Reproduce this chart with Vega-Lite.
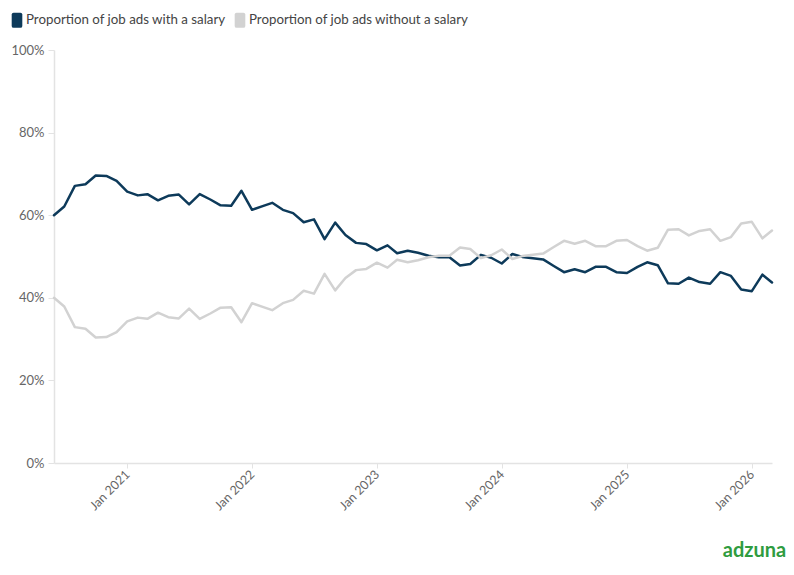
{
  "$schema": "https://vega.github.io/schema/vega-lite/v6.json",
  "width": 718,
  "height": 413,
  "autosize": {"type": "none"},
  "padding": {"left": 54, "top": 50, "right": 22, "bottom": 112},
  "title": {"text": "adzuna", "orient": "bottom", "anchor": "end", "color": "#2f9c3f", "fontSize": 20, "fontWeight": "bold", "font": "Lato", "offset": 29, "dx": 13},
  "data": {"values": [
    {"m":"2020-06-01","with_salary":60.0,"without_salary":40.0},
    {"m":"2020-07-01","with_salary":62.1,"without_salary":37.9},
    {"m":"2020-08-01","with_salary":67.1,"without_salary":32.9},
    {"m":"2020-09-01","with_salary":67.5,"without_salary":32.5},
    {"m":"2020-10-01","with_salary":69.6,"without_salary":30.4},
    {"m":"2020-11-01","with_salary":69.5,"without_salary":30.5},
    {"m":"2020-12-01","with_salary":68.3,"without_salary":31.7},
    {"m":"2021-01-01","with_salary":65.7,"without_salary":34.3},
    {"m":"2021-02-01","with_salary":64.8,"without_salary":35.2},
    {"m":"2021-03-01","with_salary":65.1,"without_salary":34.9},
    {"m":"2021-04-01","with_salary":63.6,"without_salary":36.4},
    {"m":"2021-05-01","with_salary":64.7,"without_salary":35.3},
    {"m":"2021-06-01","with_salary":65.0,"without_salary":35.0},
    {"m":"2021-07-01","with_salary":62.6,"without_salary":37.4},
    {"m":"2021-08-01","with_salary":65.1,"without_salary":34.9},
    {"m":"2021-09-01","with_salary":63.8,"without_salary":36.2},
    {"m":"2021-10-01","with_salary":62.4,"without_salary":37.6},
    {"m":"2021-11-01","with_salary":62.3,"without_salary":37.7},
    {"m":"2021-12-01","with_salary":65.9,"without_salary":34.1},
    {"m":"2022-01-01","with_salary":61.3,"without_salary":38.7},
    {"m":"2022-02-01","with_salary":62.2,"without_salary":37.8},
    {"m":"2022-03-01","with_salary":63.0,"without_salary":37.0},
    {"m":"2022-04-01","with_salary":61.3,"without_salary":38.7},
    {"m":"2022-05-01","with_salary":60.5,"without_salary":39.5},
    {"m":"2022-06-01","with_salary":58.3,"without_salary":41.7},
    {"m":"2022-07-01","with_salary":59.0,"without_salary":41.0},
    {"m":"2022-08-01","with_salary":54.2,"without_salary":45.8},
    {"m":"2022-09-01","with_salary":58.2,"without_salary":41.8},
    {"m":"2022-10-01","with_salary":55.2,"without_salary":44.8},
    {"m":"2022-11-01","with_salary":53.3,"without_salary":46.7},
    {"m":"2022-12-01","with_salary":53.0,"without_salary":47.0},
    {"m":"2023-01-01","with_salary":51.5,"without_salary":48.5},
    {"m":"2023-02-01","with_salary":52.7,"without_salary":47.3},
    {"m":"2023-03-01","with_salary":50.8,"without_salary":49.2},
    {"m":"2023-04-01","with_salary":51.4,"without_salary":48.6},
    {"m":"2023-05-01","with_salary":50.9,"without_salary":49.1},
    {"m":"2023-06-01","with_salary":50.2,"without_salary":49.8},
    {"m":"2023-07-01","with_salary":49.8,"without_salary":50.2},
    {"m":"2023-08-01","with_salary":49.8,"without_salary":50.2},
    {"m":"2023-09-01","with_salary":47.8,"without_salary":52.2},
    {"m":"2023-10-01","with_salary":48.2,"without_salary":51.8},
    {"m":"2023-11-01","with_salary":50.4,"without_salary":49.6},
    {"m":"2023-12-01","with_salary":49.7,"without_salary":50.3},
    {"m":"2024-01-01","with_salary":48.3,"without_salary":51.7},
    {"m":"2024-02-01","with_salary":50.6,"without_salary":49.4},
    {"m":"2024-03-01","with_salary":49.9,"without_salary":50.1},
    {"m":"2024-04-01","with_salary":49.6,"without_salary":50.4},
    {"m":"2024-05-01","with_salary":49.3,"without_salary":50.7},
    {"m":"2024-06-01","with_salary":47.7,"without_salary":52.3},
    {"m":"2024-07-01","with_salary":46.2,"without_salary":53.8},
    {"m":"2024-08-01","with_salary":46.9,"without_salary":53.1},
    {"m":"2024-09-01","with_salary":46.2,"without_salary":53.8},
    {"m":"2024-10-01","with_salary":47.5,"without_salary":52.5},
    {"m":"2024-11-01","with_salary":47.5,"without_salary":52.5},
    {"m":"2024-12-01","with_salary":46.2,"without_salary":53.8},
    {"m":"2025-01-01","with_salary":46.0,"without_salary":54.0},
    {"m":"2025-02-01","with_salary":47.5,"without_salary":52.5},
    {"m":"2025-03-01","with_salary":48.6,"without_salary":51.4},
    {"m":"2025-04-01","with_salary":47.9,"without_salary":52.1},
    {"m":"2025-05-01","with_salary":43.5,"without_salary":56.5},
    {"m":"2025-06-01","with_salary":43.4,"without_salary":56.6},
    {"m":"2025-07-01","with_salary":44.9,"without_salary":55.1},
    {"m":"2025-08-01","with_salary":43.8,"without_salary":56.2},
    {"m":"2025-09-01","with_salary":43.4,"without_salary":56.6},
    {"m":"2025-10-01","with_salary":46.2,"without_salary":53.8},
    {"m":"2025-11-01","with_salary":45.3,"without_salary":54.7},
    {"m":"2025-12-01","with_salary":42.0,"without_salary":58.0},
    {"m":"2026-01-01","with_salary":41.6,"without_salary":58.4},
    {"m":"2026-02-01","with_salary":45.6,"without_salary":54.4},
    {"m":"2026-03-01","with_salary":43.7,"without_salary":56.3}
  ]},
  "transform": [{"fold": ["with_salary", "without_salary"], "as": ["series", "value"]}],
  "mark": {"type": "line", "strokeWidth": 2.5, "strokeJoin": "round", "strokeCap": "round"},
  "encoding": {
    "x": {
      "field": "m", "type": "temporal",
      "scale": {"type": "utc", "domain": ["2020-06-01", "2026-03-01"], "nice": false},
      "axis": {"title": null, "format": "%b %Y", "tickCount": {"interval": "year", "step": 1}, "labelAngle": -45, "labelAlign": "right", "labelBaseline": "middle", "grid": false, "tickSize": 5, "labelPadding": 4, "labelFontSize": 12.5}
    },
    "y": {
      "field": "value", "type": "quantitative",
      "scale": {"domain": [0, 100], "nice": false},
      "axis": {"title": null, "values": [0, 20, 40, 60, 80, 100], "labelExpr": "datum.value + '%'", "grid": false, "tickSize": 6, "labelPadding": 4, "labelFontSize": 13}
    },
    "color": {
      "field": "series", "type": "nominal",
      "scale": {"domain": ["with_salary", "without_salary"], "range": ["#0d3a5a", "#d2d2d2"]},
      "legend": {
        "title": null, "orient": "none", "legendX": -45, "legendY": -38, "direction": "horizontal",
        "labelExpr": "datum.value == 'with_salary' ? 'Proportion of job ads with a salary' : 'Proportion of job ads without a salary'",
        "symbolType": "M-0.45,-1 H0.45 Q0.7,-1 0.7,-0.75 V0.75 Q0.7,1 0.45,1 H-0.45 Q-0.7,1 -0.7,0.75 V-0.75 Q-0.7,-1 -0.45,-1 Z",
        "symbolSize": 230, "labelFontSize": 13.3, "labelColor": "#444444", "labelOffset": 1, "columnPadding": 6, "labelLimit": 400,
        "encode": {"symbols": {"update": {"fill": {"scale": "color", "field": "value"}, "strokeWidth": {"value": 0}, "opacity": {"value": 1}}}}
      }
    }
  },
  "config": {
    "font": "Lato",
    "view": {"stroke": null},
    "axis": {"domainColor": "#e3e3e3", "tickColor": "#e3e3e3", "labelColor": "#666666", "labelFont": "Lato", "domainWidth": 1.5},
    "legend": {"labelFont": "Lato"}
  }
}
